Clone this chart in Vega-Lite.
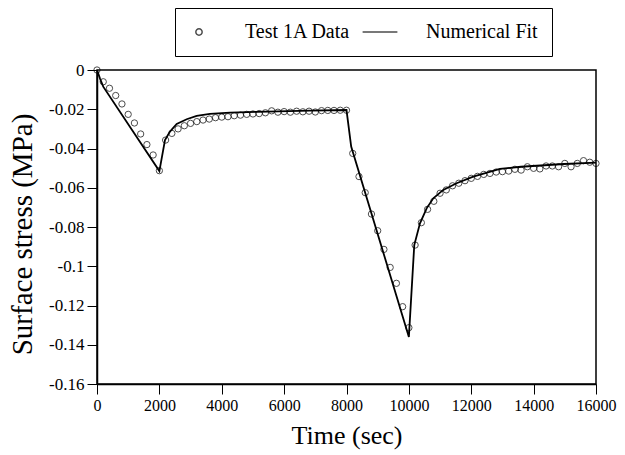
{
  "$schema": "https://vega.github.io/schema/vega-lite/v6.json",
  "width": 499,
  "height": 314,
  "autosize": {"type": "none"},
  "padding": {"left": 97, "top": 70, "right": 29, "bottom": 71},
  "background": "white",
  "config": {
    "view": {"stroke": "black", "strokeWidth": 1.5},
    "font": "Liberation Serif",
    "axis": {
      "grid": false,
      "domainColor": "black",
      "domainWidth": 1.5,
      "tickColor": "black",
      "tickWidth": 1,
      "tickSize": 10,
      "labelPadding": 3,
      "labelFont": "Liberation Serif",
      "labelFontSize": 16,
      "labelColor": "black",
      "labelOverlap": false,
      "labelFlush": false,
      "titleFont": "Liberation Serif",
      "titleFontWeight": "normal",
      "titleColor": "black"
    }
  },
  "datasets": {
    "test": [
      {"t": 0, "v": 0}, {"t": 200, "v": -0.006}, {"t": 400, "v": -0.0093}, {"t": 600, "v": -0.013},
      {"t": 800, "v": -0.0173}, {"t": 1000, "v": -0.0226}, {"t": 1200, "v": -0.027}, {"t": 1400, "v": -0.0326},
      {"t": 1600, "v": -0.038}, {"t": 1800, "v": -0.0433}, {"t": 2000, "v": -0.0513}, {"t": 2200, "v": -0.0357},
      {"t": 2400, "v": -0.0323}, {"t": 2600, "v": -0.03}, {"t": 2800, "v": -0.0284}, {"t": 3000, "v": -0.0272},
      {"t": 3200, "v": -0.0263}, {"t": 3400, "v": -0.0255}, {"t": 3600, "v": -0.025}, {"t": 3800, "v": -0.0243},
      {"t": 4000, "v": -0.024}, {"t": 4200, "v": -0.0238}, {"t": 4400, "v": -0.0233}, {"t": 4600, "v": -0.023},
      {"t": 4800, "v": -0.0226}, {"t": 5000, "v": -0.0224}, {"t": 5200, "v": -0.0222}, {"t": 5400, "v": -0.0218},
      {"t": 5600, "v": -0.0208}, {"t": 5800, "v": -0.0215}, {"t": 6000, "v": -0.0212}, {"t": 6200, "v": -0.0215},
      {"t": 6400, "v": -0.021}, {"t": 6600, "v": -0.0213}, {"t": 6800, "v": -0.021}, {"t": 7000, "v": -0.0214},
      {"t": 7200, "v": -0.0207}, {"t": 7400, "v": -0.0206}, {"t": 7600, "v": -0.0206}, {"t": 7800, "v": -0.0205},
      {"t": 8000, "v": -0.0205}, {"t": 8200, "v": -0.0425}, {"t": 8400, "v": -0.0543}, {"t": 8600, "v": -0.0625},
      {"t": 8800, "v": -0.0734}, {"t": 9000, "v": -0.0819}, {"t": 9200, "v": -0.0914}, {"t": 9400, "v": -0.1006},
      {"t": 9600, "v": -0.1087}, {"t": 9800, "v": -0.1206}, {"t": 10000, "v": -0.1313}, {"t": 10200, "v": -0.0892},
      {"t": 10400, "v": -0.0778}, {"t": 10600, "v": -0.071}, {"t": 10800, "v": -0.0669}, {"t": 11000, "v": -0.0628},
      {"t": 11200, "v": -0.0611}, {"t": 11400, "v": -0.059}, {"t": 11600, "v": -0.0577}, {"t": 11800, "v": -0.0564},
      {"t": 12000, "v": -0.0552}, {"t": 12200, "v": -0.0542}, {"t": 12400, "v": -0.0532}, {"t": 12600, "v": -0.0527},
      {"t": 12800, "v": -0.052}, {"t": 13000, "v": -0.0518}, {"t": 13200, "v": -0.0515}, {"t": 13400, "v": -0.0506},
      {"t": 13600, "v": -0.051}, {"t": 13800, "v": -0.0493}, {"t": 14000, "v": -0.0501}, {"t": 14200, "v": -0.0504},
      {"t": 14400, "v": -0.0489}, {"t": 14600, "v": -0.0489}, {"t": 14800, "v": -0.0493}, {"t": 15000, "v": -0.0476},
      {"t": 15200, "v": -0.0493}, {"t": 15400, "v": -0.0476}, {"t": 15600, "v": -0.0462}, {"t": 15800, "v": -0.047},
      {"t": 16000, "v": -0.0476}
    ],
    "fit": [
      {"t": 0, "v": 0}, {"t": 100, "v": -0.0045}, {"t": 200, "v": -0.0085}, {"t": 2000, "v": -0.0515},
      {"t": 2180, "v": -0.0357}, {"t": 2340, "v": -0.0314}, {"t": 2555, "v": -0.0275}, {"t": 2876, "v": -0.0251},
      {"t": 3196, "v": -0.0234}, {"t": 3623, "v": -0.0224}, {"t": 4264, "v": -0.0217}, {"t": 5120, "v": -0.0213},
      {"t": 6829, "v": -0.0207}, {"t": 8000, "v": -0.0204}, {"t": 8150, "v": -0.039}, {"t": 10000, "v": -0.136},
      {"t": 10173, "v": -0.0892}, {"t": 10356, "v": -0.0781}, {"t": 10570, "v": -0.0705}, {"t": 10783, "v": -0.0654},
      {"t": 11102, "v": -0.0611}, {"t": 11530, "v": -0.0577}, {"t": 12064, "v": -0.0543}, {"t": 12920, "v": -0.0504},
      {"t": 13593, "v": -0.0493}, {"t": 14972, "v": -0.0479}, {"t": 16000, "v": -0.0472}
    ]
  },
  "encoding": {
    "x": {
      "field": "t", "type": "quantitative",
      "scale": {"domain": [0, 16000], "nice": false},
      "axis": {
        "values": [0, 2000, 4000, 6000, 8000, 10000, 12000, 14000, 16000],
        "format": "d",
        "labelFont": "Liberation Serif",
        "labelFontSize": 16,
        "labelFlush": false,
        "labelOverlap": false,
        "encode": {"labels": {"update": {"font": {"value": "Liberation Serif"}, "fontSize": {"value": 16}}}},
        "title": "Time (sec)",
        "titleFontSize": 26,
        "titleBaseline": "middle",
        "titleX": 249.5,
        "titleY": 51
      }
    },
    "y": {
      "field": "v", "type": "quantitative",
      "scale": {"domain": [-0.16, 0], "nice": false, "zero": false},
      "axis": {
        "values": [0, -0.02, -0.04, -0.06, -0.08, -0.1, -0.12, -0.14, -0.16],
        "labelExpr": "datum.value == 0 ? '0' : '-' + format(abs(datum.value), '.2~f')",
        "labelOverlap": false,
        "labelFontSize": 17,
        "labelFont": "Liberation Serif",
        "encode": {"labels": {"update": {"font": {"value": "Liberation Serif"}, "fontSize": {"value": 17}}}},
        "title": "Surface stress (MPa)",
        "titleFontSize": 29,
        "titleAngle": -90,
        "titleAlign": "center",
        "titleBaseline": "middle",
        "titleX": -75,
        "titleY": 164
      }
    }
  },
  "layer": [
    {
      "data": {"name": "fit"},
      "mark": {"type": "line", "color": "black", "strokeWidth": 1.8, "clip": false}
    },
    {
      "data": {"name": "test"},
      "transform": [{"calculate": "'Test 1A Data'", "as": "series"}],
      "mark": {"type": "point", "filled": false, "stroke": "black", "strokeWidth": 1, "size": 40, "clip": false},
      "encoding": {
        "shape": {
          "field": "series", "type": "nominal",
          "scale": {"domain": ["Test 1A Data", "Numerical Fit"], "range": ["circle", "M-5.5,0H5.5"]},
          "legend": {
            "title": null,
            "orient": "none",
            "direction": "horizontal",
            "legendX": 78,
            "legendY": -62,
            "padding": 14,
            "strokeColor": "black",
            "labelFont": "Liberation Serif",
            "labelFontSize": 20,
            "labelColor": "black",
            "labelOffset": 36,
            "columnPadding": 8,
            "symbolSize": 40,
            "symbolStrokeWidth": 1.5,
            "symbolStrokeColor": "black",
            "symbolFillColor": "transparent",
            "encode": {
              "legend": {"update": {"strokeWidth": {"value": 1.5}}}
            }
          }
        }
      }
    }
  ]
}
